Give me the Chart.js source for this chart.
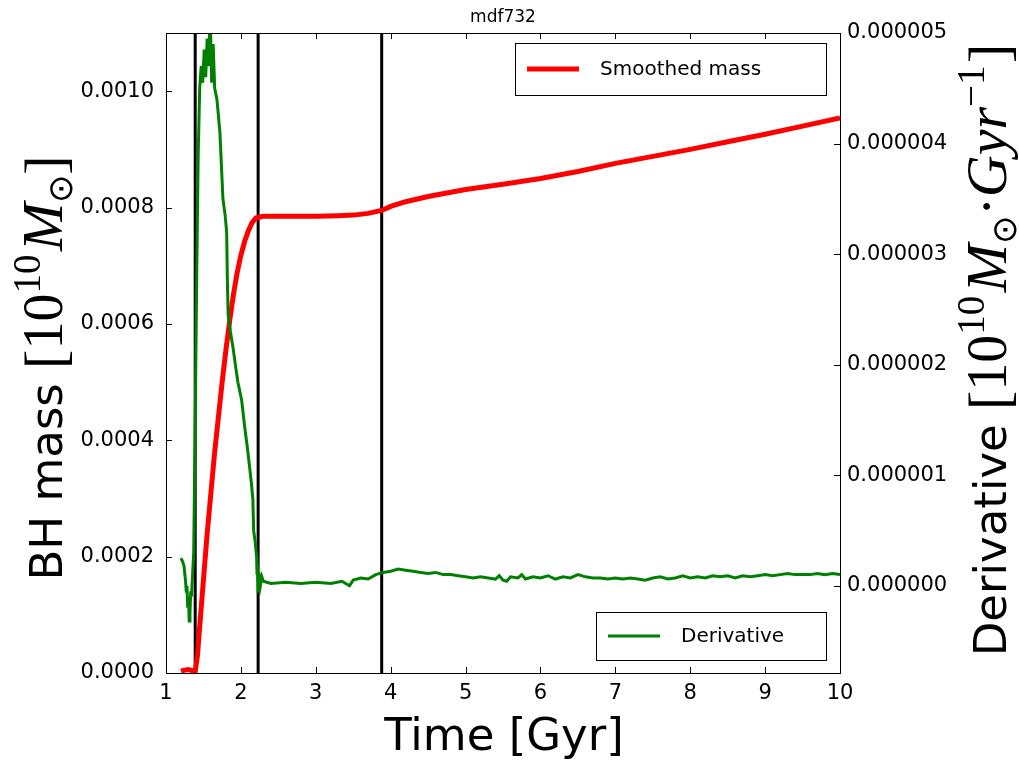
<!DOCTYPE html>
<html>
<head>
<meta charset="utf-8">
<script src="https://cdn.jsdelivr.net/npm/chart.js@4/dist/chart.umd.min.js"></script>
<style>
  body { margin: 0; background: #fff; }
  #wrap { width: 1019px; height: 761px; }
</style>
</head>
<body>
<div id="wrap"><canvas id="c" width="1019" height="761"></canvas></div>
<script>
// mdf732 - BH mass and its derivative vs time

const massTime = [1.20, 1.25, 1.30, 1.35, 1.39, 1.42, 1.45, 1.50, 1.55, 1.60, 1.65, 1.70, 1.75, 1.80, 1.85, 1.90, 1.95, 2.00, 2.05, 2.10, 2.15, 2.20, 2.30, 2.50, 3.00, 3.30, 3.50, 3.70, 3.88, 4.00, 4.20, 4.50, 5.00, 5.50, 6.00, 6.50, 7.00, 7.50, 8.00, 8.50, 9.00, 9.50, 10.00];
const massValue = [0.000003, 0.000005, 0.000006, 0.000004, 0.000002, 0.00003, 0.00008, 0.00016, 0.00024, 0.00031, 0.00038, 0.00044, 0.0005, 0.000555, 0.000605, 0.00065, 0.000688, 0.000718, 0.000742, 0.00076, 0.000774, 0.000782, 0.000785, 0.000785, 0.000785, 0.000786, 0.000787, 0.00079, 0.000795, 0.000802, 0.00081, 0.000819, 0.000831, 0.00084, 0.00085, 0.000862, 0.000876, 0.000888, 0.0009, 0.000913, 0.000926, 0.00094, 0.000954];

// derivative in units of 1e-6 (10^10 Msun / Gyr)
const derivTime = [1.20, 1.22, 1.24, 1.26, 1.27, 1.28, 1.29, 1.30, 1.31, 1.32, 1.33, 1.34, 1.37, 1.39, 1.41, 1.43, 1.45, 1.47, 1.49, 1.51, 1.53, 1.55, 1.57, 1.59, 1.61, 1.63, 1.65, 1.68, 1.72, 1.74, 1.76, 1.79, 1.81, 1.82, 1.83, 1.86, 1.90, 1.93, 1.96, 2.01, 2.05, 2.09, 2.12, 2.14, 2.16, 2.17, 2.19, 2.21, 2.215, 2.22, 2.23, 2.24, 2.26, 2.28, 2.30, 2.40, 2.60, 2.80, 3.00, 3.20, 3.35, 3.45, 3.50, 3.60, 3.70, 3.80, 3.90, 4.00, 4.10, 4.20, 4.30, 4.40, 4.50, 4.60, 4.70, 4.80, 4.90, 5.00, 5.10, 5.20, 5.30, 5.40, 5.45, 5.50, 5.55, 5.60, 5.70, 5.75, 5.80, 5.90, 6.00, 6.10, 6.20, 6.30, 6.40, 6.50, 6.60, 6.70, 6.80, 6.90, 7.00, 7.10, 7.20, 7.30, 7.40, 7.50, 7.60, 7.70, 7.80, 7.90, 8.00, 8.10, 8.20, 8.30, 8.40, 8.50, 8.60, 8.70, 8.80, 8.90, 9.00, 9.10, 9.20, 9.30, 9.40, 9.50, 9.60, 9.70, 9.80, 9.90, 10.00];
const derivValue = [0.25, 0.22, 0.18, 0.05, -0.05, 0.0, -0.2, -0.1, -0.32, -0.25, -0.05, -0.1, 0.3, 1.5, 2.8, 3.9, 4.5, 4.7, 4.55, 4.85, 4.6, 4.95, 4.7, 5.2, 4.55, 4.9, 4.5, 4.4, 4.1, 3.8, 3.5, 3.35, 3.2, 2.75, 2.45, 2.3, 2.13, 1.98, 1.84, 1.68, 1.44, 1.23, 1.05, 0.93, 0.78, 0.5, 0.4, 0.26, 0.1, 0.2, -0.05, 0.12, 0.0, 0.08, 0.04, 0.02, 0.03, 0.02, 0.03, 0.02, 0.04, 0.0, 0.05, 0.07, 0.06, 0.1, 0.12, 0.13, 0.15, 0.14, 0.13, 0.12, 0.11, 0.12, 0.1, 0.1, 0.09, 0.08, 0.07, 0.08, 0.07, 0.06, 0.09, 0.05, 0.04, 0.08, 0.07, 0.1, 0.06, 0.08, 0.07, 0.09, 0.06, 0.08, 0.07, 0.1, 0.08, 0.07, 0.07, 0.06, 0.07, 0.06, 0.07, 0.06, 0.05, 0.07, 0.08, 0.06, 0.07, 0.09, 0.07, 0.08, 0.07, 0.09, 0.08, 0.09, 0.07, 0.09, 0.08, 0.09, 0.1, 0.09, 0.1, 0.11, 0.1, 0.1, 0.1, 0.11, 0.1, 0.11, 0.1];

const markTimes = [1.39, 2.23, 3.88];

const xTicks = [1, 2, 3, 4, 5, 6, 7, 8, 9, 10];
const massTicks = [0, 0.0002, 0.0004, 0.0006, 0.0008, 0.0010];
const derivTicks = [0, 1, 2, 3, 4, 5];

const SANS = '"DejaVu Sans", sans-serif';
const SERIF = '"Liberation Serif", serif';

function pts(xs, ys) {
  return xs.map((x, i) => ({ x: x, y: ys[i] }));
}

const datasets = [
  {
    label: 'Derivative', data: pts(derivTime, derivValue), yAxisID: 'y2',
    borderColor: '#008000', borderWidth: 3, pointRadius: 0, tension: 0
  },
  {
    label: 'Smoothed mass', data: pts(massTime, massValue), yAxisID: 'y',
    borderColor: '#ff0000', borderWidth: 5, pointRadius: 0, tension: 0
  }
];
markTimes.forEach(t => datasets.push({
  data: [{ x: t, y: 0 }, { x: t, y: 0.0011 }], yAxisID: 'y',
  borderColor: '#000', borderWidth: 3, pointRadius: 0
}));

function drawRich(ctx, parts, x, y, rot) {
  ctx.save();
  ctx.translate(x, y);
  ctx.rotate(rot);
  let total = 0;
  parts.forEach(p => { ctx.font = p.font; p.w = ctx.measureText(p.text).width; total += p.w; });
  let cx = -total / 2;
  ctx.fillStyle = '#000';
  ctx.textBaseline = 'alphabetic';
  ctx.textAlign = 'left';
  parts.forEach(p => { ctx.font = p.font; ctx.fillText(p.text, cx, p.dy || 0); cx += p.w; });
  ctx.restore();
}

function legendBox(ctx, x, y, w, h, color, lw, text) {
  ctx.save();
  ctx.fillStyle = '#fff';
  ctx.fillRect(x, y, w, h);
  ctx.strokeStyle = '#000';
  ctx.lineWidth = 1;
  ctx.strokeRect(x + 0.5, y + 0.5, w, h);
  ctx.strokeStyle = color;
  ctx.lineWidth = lw;
  ctx.beginPath();
  ctx.moveTo(x + 12, y + h / 2);
  ctx.lineTo(x + 64, y + h / 2);
  ctx.stroke();
  ctx.fillStyle = '#000';
  ctx.font = '20px ' + SANS;
  ctx.textBaseline = 'middle';
  ctx.fillText(text, x + 85, y + h / 2 + 1);
  ctx.restore();
}

// math-style parts shared by both y titles
function mathParts() {
  return [
    { text: '[', font: '58px ' + SERIF, dy: 2 },
    { text: '10', font: '56px ' + SERIF },
    { text: '10', font: '39px ' + SERIF, dy: -22 },
    { text: ' ', font: '14px ' + SERIF },
    { text: 'M', font: 'italic 58px ' + SERIF },
    { text: '⊙', font: '34px ' + SERIF, dy: 10 }
  ];
}

const decor = {
  id: 'decor',
  afterDatasetsDraw(chart) {
    const ctx = chart.ctx, a = chart.chartArea, s = chart.scales;
    ctx.save();
    ctx.strokeStyle = '#000';
    ctx.lineWidth = 1;
    ctx.strokeRect(a.left + 0.5, a.top + 0.5, a.right - a.left, a.bottom - a.top);
    const tl = 6;
    ctx.beginPath();
    xTicks.forEach(v => {
      const px = Math.round(s.x.getPixelForValue(v)) + 0.5;
      ctx.moveTo(px, a.bottom); ctx.lineTo(px, a.bottom - tl);
      ctx.moveTo(px, a.top); ctx.lineTo(px, a.top + tl);
    });
    massTicks.forEach(v => {
      const py = Math.round(s.y.getPixelForValue(v)) + 0.5;
      ctx.moveTo(a.left, py); ctx.lineTo(a.left + tl, py);
    });
    derivTicks.forEach(v => {
      const py = Math.round(s.y2.getPixelForValue(v)) + 0.5;
      ctx.moveTo(a.right, py); ctx.lineTo(a.right - tl, py);
    });
    ctx.stroke();
    ctx.restore();

    legendBox(ctx, 515, 43, 311, 52, '#ff0000', 5, 'Smoothed mass');
    legendBox(ctx, 596, 612, 230, 48, '#008000', 3, 'Derivative');
  },
  afterDraw(chart) {
    const ctx = chart.ctx;
    ctx.save();
    ctx.fillStyle = '#000';
    ctx.font = '17px ' + SANS;
    ctx.textAlign = 'center';
    ctx.textBaseline = 'alphabetic';
    ctx.fillText('mdf732', 503, 22);
    ctx.font = '45px ' + SANS;
    ctx.fillText('Time [Gyr]', 504, 750);
    ctx.restore();

    drawRich(ctx, [{ text: 'BH mass ', font: '45px ' + SANS }]
      .concat(mathParts())
      .concat([{ text: ']', font: '58px ' + SERIF, dy: 2 }]),
      62, 368, -Math.PI / 2);

    drawRich(ctx, [{ text: 'Derivative ', font: '45px ' + SANS }]
      .concat(mathParts())
      .concat([
        { text: '·', font: '56px ' + SERIF },
        { text: 'Gyr', font: 'italic 58px ' + SERIF },
        { text: '−1', font: '39px ' + SERIF, dy: -22 },
        { text: ' ', font: '10px ' + SERIF },
        { text: ']', font: '58px ' + SERIF, dy: 2 }
      ]),
      1006, 350, -Math.PI / 2);
  }
};

new Chart(document.getElementById('c'), {
  type: 'line',
  data: { datasets: datasets },
  plugins: [decor],
  options: {
    responsive: false,
    animation: false,
    devicePixelRatio: 1,
    layout: { padding: { top: 33, left: 0, right: 0, bottom: 0 } },
    plugins: { legend: { display: false }, tooltip: { enabled: false } },
    scales: {
      x: {
        type: 'linear', min: 1, max: 10,
        grid: { display: false, drawTicks: false }, border: { display: false },
        ticks: { stepSize: 1, color: '#000', font: { size: 21, family: SANS }, padding: 8, maxRotation: 0 },
        afterFit(sc) { sc.height = 88; }
      },
      y: {
        type: 'linear', position: 'left', min: 0, max: 0.0011,
        grid: { display: false, drawTicks: false }, border: { display: false },
        ticks: {
          stepSize: 0.0002, includeBounds: false, color: '#000', padding: 12,
          font: { size: 21, family: SANS },
          callback: v => v.toFixed(4)
        },
        afterBuildTicks(sc) { sc.ticks = massTicks.map(v => ({ value: v })); },
        afterFit(sc) { sc.width = 166; }
      },
      y2: {
        type: 'linear', position: 'right', min: -0.79, max: 5,
        grid: { display: false, drawTicks: false }, border: { display: false },
        ticks: {
          stepSize: 1, includeBounds: false, color: '#000', padding: 7,
          font: { size: 21, family: SANS },
          callback: v => (v / 1e6).toFixed(6)
        },
        afterBuildTicks(sc) { sc.ticks = derivTicks.map(v => ({ value: v })); },
        afterFit(sc) { sc.width = 179; }
      }
    }
  }
});
</script>
</body>
</html>
